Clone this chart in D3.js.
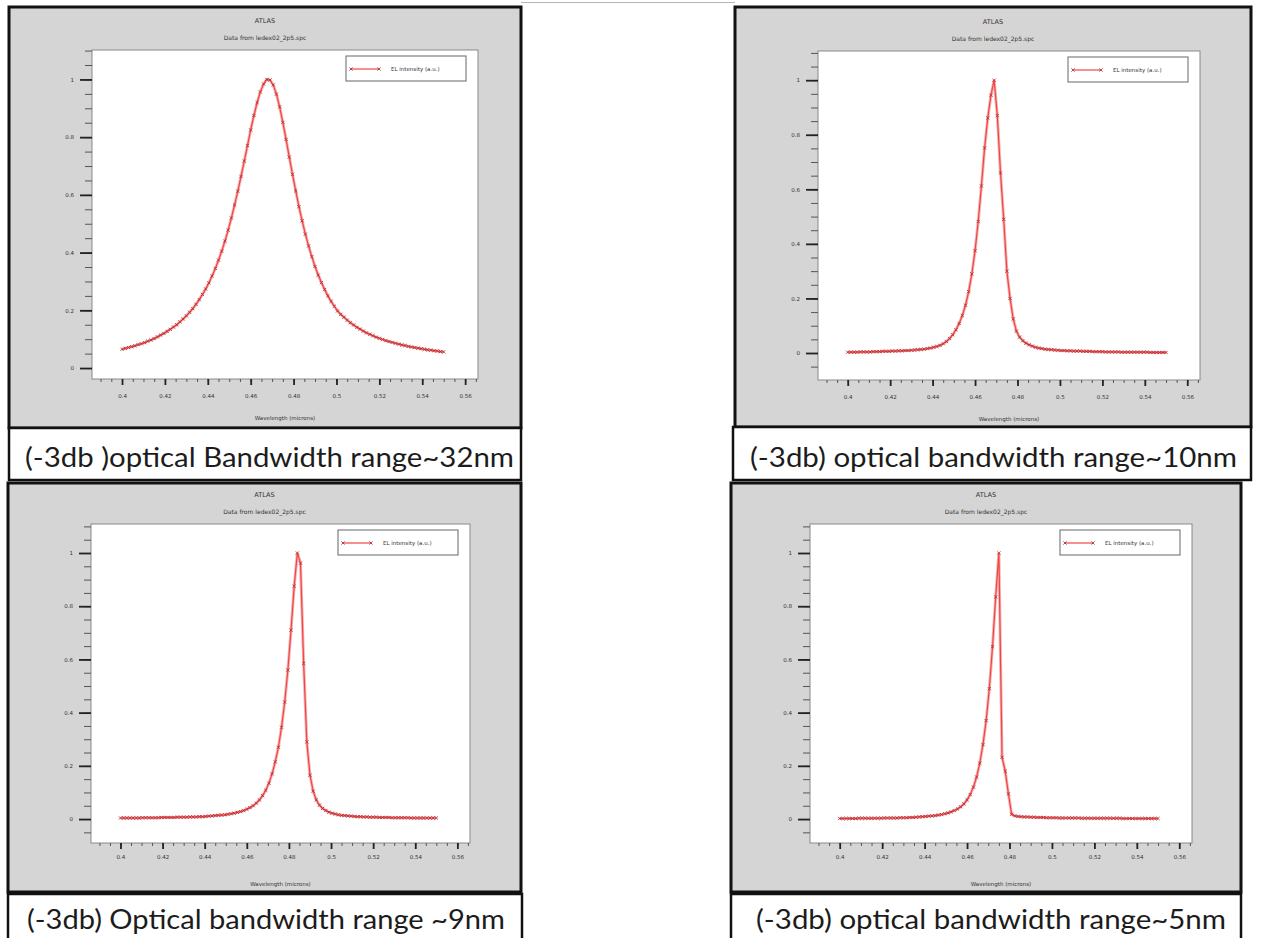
<!DOCTYPE html>
<html lang="en">
<head>
<meta charset="UTF-8">
<title>EL spectra - optical bandwidth</title>
<style>
  body { margin: 0; background: #fff; }
  svg { display: block; }
  .tick text { font-family: "DejaVu Sans", sans-serif; font-size: 5.5px; fill: #333; }
  .small { font-family: "DejaVu Sans", sans-serif; fill: #333; }
  .caption { font-family: "Lato", "Open Sans", sans-serif; fill: #1c1c1c; }
</style>
</head>
<body>
<svg id="CHART"></svg>

<script src="https://cdnjs.cloudflare.com/ajax/libs/d3/7.8.5/d3.min.js"></script>
<script>
// ==================================================================
// Data (wavelength in microns)

const wavelength = [
  0.4000, 0.4015, 0.4030, 0.4045, 0.4060, 0.4075, 0.4090, 0.4105, 0.4120, 0.4135,
  0.4150, 0.4165, 0.4180, 0.4195, 0.4210, 0.4225, 0.4240, 0.4255, 0.4270, 0.4285,
  0.4300, 0.4315, 0.4330, 0.4345, 0.4360, 0.4375, 0.4390, 0.4405, 0.4420, 0.4435,
  0.4450, 0.4465, 0.4480, 0.4495, 0.4510, 0.4525, 0.4540, 0.4555, 0.4570, 0.4585,
  0.4600, 0.4615, 0.4630, 0.4645, 0.4660, 0.4675, 0.4690, 0.4705, 0.4720, 0.4735,
  0.4750, 0.4765, 0.4780, 0.4795, 0.4810, 0.4825, 0.4840, 0.4855, 0.4870, 0.4885,
  0.4900, 0.4915, 0.4930, 0.4945, 0.4960, 0.4975, 0.4990, 0.5005, 0.5020, 0.5035,
  0.5050, 0.5065, 0.5080, 0.5095, 0.5110, 0.5125, 0.5140, 0.5155, 0.5170, 0.5185,
  0.5200, 0.5215, 0.5230, 0.5245, 0.5260, 0.5275, 0.5290, 0.5305, 0.5320, 0.5335,
  0.5350, 0.5365, 0.5380, 0.5395, 0.5410, 0.5425, 0.5440, 0.5455, 0.5470, 0.5485,
  0.5500
];

// EL intensity (a.u.)
const elBand32 = [
  0.065, 0.068, 0.071, 0.074, 0.077, 0.081, 0.084, 0.088, 0.093, 0.097,
  0.102, 0.108, 0.114, 0.120, 0.127, 0.134, 0.142, 0.150, 0.160, 0.170,
  0.181, 0.193, 0.206, 0.221, 0.237, 0.255, 0.274, 0.295, 0.319, 0.345,
  0.374, 0.405, 0.440, 0.478, 0.520, 0.565, 0.613, 0.664, 0.717, 0.771,
  0.825, 0.875, 0.920, 0.957, 0.984, 1.000, 0.998, 0.981, 0.949, 0.905,
  0.851, 0.792, 0.731, 0.671, 0.614, 0.559, 0.510, 0.464, 0.423, 0.386,
  0.352, 0.322, 0.296, 0.272, 0.250, 0.231, 0.214, 0.198, 0.186, 0.176,
  0.166, 0.157, 0.149, 0.141, 0.135, 0.128, 0.122, 0.117, 0.112, 0.107,
  0.103, 0.099, 0.095, 0.092, 0.089, 0.086, 0.083, 0.080, 0.078, 0.075,
  0.073, 0.071, 0.069, 0.067, 0.065, 0.063, 0.062, 0.060, 0.059, 0.057,
  0.056
];

const elBand10 = [
  0.003, 0.003, 0.003, 0.003, 0.004, 0.004, 0.004, 0.004, 0.005, 0.005,
  0.005, 0.006, 0.006, 0.006, 0.007, 0.007, 0.008, 0.008, 0.009, 0.009,
  0.010, 0.011, 0.012, 0.013, 0.014, 0.016, 0.018, 0.021, 0.024, 0.028,
  0.034, 0.042, 0.053, 0.067, 0.085, 0.108, 0.137, 0.175, 0.225, 0.290,
  0.375, 0.482, 0.612, 0.752, 0.862, 0.945, 1.000, 0.870, 0.660, 0.490,
  0.300, 0.200, 0.125, 0.080, 0.058, 0.045, 0.036, 0.030, 0.025, 0.021,
  0.018, 0.016, 0.014, 0.013, 0.012, 0.011, 0.010, 0.009, 0.009, 0.008,
  0.008, 0.007, 0.007, 0.007, 0.006, 0.006, 0.006, 0.005, 0.005, 0.005,
  0.005, 0.004, 0.004, 0.004, 0.004, 0.004, 0.003, 0.003, 0.003, 0.003,
  0.003, 0.003, 0.003, 0.003, 0.003, 0.002, 0.002, 0.002, 0.002, 0.002,
  0.002
];

const elBand9 = [
  0.004, 0.004, 0.004, 0.004, 0.004, 0.004, 0.004, 0.005, 0.005, 0.005,
  0.005, 0.005, 0.005, 0.006, 0.006, 0.006, 0.006, 0.006, 0.007, 0.007,
  0.007, 0.007, 0.008, 0.008, 0.008, 0.009, 0.009, 0.010, 0.011, 0.012,
  0.013, 0.014, 0.015, 0.016, 0.018, 0.020, 0.022, 0.025, 0.028, 0.032,
  0.037, 0.043, 0.050, 0.060, 0.072, 0.088, 0.108, 0.135, 0.170, 0.215,
  0.270, 0.345, 0.440, 0.560, 0.710, 0.875, 1.000, 0.962, 0.585, 0.290,
  0.165, 0.105, 0.072, 0.052, 0.040, 0.032, 0.026, 0.022, 0.019, 0.016,
  0.014, 0.013, 0.012, 0.011, 0.010, 0.009, 0.009, 0.008, 0.008, 0.007,
  0.007, 0.007, 0.006, 0.006, 0.006, 0.006, 0.005, 0.005, 0.005, 0.005,
  0.005, 0.005, 0.004, 0.004, 0.004, 0.004, 0.004, 0.004, 0.004, 0.004,
  0.004
];

const elBand5 = [
  0.002, 0.002, 0.002, 0.002, 0.002, 0.002, 0.003, 0.003, 0.003, 0.003,
  0.003, 0.003, 0.003, 0.003, 0.004, 0.004, 0.004, 0.004, 0.004, 0.005,
  0.005, 0.005, 0.006, 0.006, 0.007, 0.008, 0.009, 0.010, 0.011, 0.012,
  0.013, 0.015, 0.017, 0.020, 0.023, 0.027, 0.032, 0.038, 0.046, 0.057,
  0.072, 0.092, 0.120, 0.158, 0.210, 0.280, 0.370, 0.490, 0.648, 0.835,
  1.000, 0.232, 0.180, 0.095, 0.018, 0.012, 0.010, 0.009, 0.008, 0.008,
  0.007, 0.007, 0.006, 0.006, 0.006, 0.005, 0.005, 0.005, 0.005, 0.004,
  0.004, 0.004, 0.004, 0.004, 0.004, 0.004, 0.003, 0.003, 0.003, 0.003,
  0.003, 0.003, 0.003, 0.003, 0.003, 0.003, 0.003, 0.003, 0.003, 0.002,
  0.002, 0.002, 0.002, 0.002, 0.002, 0.002, 0.002, 0.002, 0.002, 0.002,
  0.002
];

const captions = [
  "(-3db )optical Bandwidth range~32nm",
  "(-3db) optical bandwidth range~10nm",
  "(-3db) Optical bandwidth range ~9nm",
  "(-3db) optical bandwidth range~5nm"
];

const xTicks = [0.4, 0.42, 0.44, 0.46, 0.48, 0.5, 0.52, 0.54, 0.56];
const yTicks = [0, 0.2, 0.4, 0.6, 0.8, 1];

const plotTitle = "ATLAS";
const plotSubtitle = "Data from ledex02_2p5.spc";
const xLabel = "Wavelength (microns)";
const legendLabel = "EL intensity (a.u.)";

// ==================================================================
// Layout: window frame, plot area, caption box for each screenshot

const xDomain = [0.386, 0.566];

const panels = [
  { values: elBand32, caption: captions[0],
    frame: { x: 9, y: 7, w: 512, h: 421 },
    plot: { x0: 92, y0: 50, x1: 478, y1: 379 }, yDomain: [-0.038, 1.102],
    pad: 9, titleDy: 41,
    cap: { x: 9, y: 428, w: 512, h: 52 }, text: { x: 25, w: 489, y: 467 } },
  { values: elBand10, caption: captions[1],
    frame: { x: 735, y: 7, w: 516, h: 420 },
    plot: { x0: 818, y0: 51, x1: 1200, y1: 380 }, yDomain: [-0.099, 1.107],
    pad: 9, titleDy: 41,
    cap: { x: 733, y: 427, w: 518, h: 53 }, text: { x: 750, w: 487, y: 467 } },
  { values: elBand9, caption: captions[2],
    frame: { x: 8, y: 483, w: 513, h: 409 },
    plot: { x0: 91, y0: 524, x1: 470, y1: 843 }, yDomain: [-0.09, 1.109],
    pad: 6, titleDy: 43,
    cap: { x: 8, y: 894, w: 514, h: 48 }, text: { x: 27, w: 478, y: 929 } },
  { values: elBand5, caption: captions[3],
    frame: { x: 731, y: 483, w: 510, h: 409 },
    plot: { x0: 810, y0: 524, x1: 1192, y1: 843 }, yDomain: [-0.09, 1.109],
    pad: 6, titleDy: 43,
    cap: { x: 731, y: 894, w: 510, h: 48 }, text: { x: 756, w: 470, y: 929 } }
];

const width = 1261;
const height = 938;

const svg = d3.select("#CHART")
    .attr("width", width)
    .attr("height", height);

svg.append("rect")
    .attr("width", width)
    .attr("height", height)
    .attr("fill", "#fff");

// thin slide edge between the two top screenshots
svg.append("line")
    .attr("x1", 521).attr("x2", 735)
    .attr("y1", 2.5).attr("y2", 2.5)
    .attr("stroke", "#b5b5b5")
    .attr("stroke-width", 1);

const fmt = d3.format("~g");
const cross = "M-1.6,-1.6L1.6,1.6M-1.6,1.6L1.6,-1.6";

panels.forEach(drawPanel);

function drawPanel(p) {
    const g = svg.append("g");
    const f = p.frame;

    // grey ATLAS window
    g.append("rect")
        .attr("x", f.x).attr("y", f.y)
        .attr("width", f.w).attr("height", f.h)
        .attr("fill", "#d5d5d5")
        .attr("stroke", "#111")
        .attr("stroke-width", 3);

    const x = d3.scaleLinear().domain(xDomain).range([p.plot.x0, p.plot.x1]);
    const y = d3.scaleLinear().domain(p.yDomain).range([p.plot.y1, p.plot.y0]);

    g.append("rect")
        .attr("x", p.plot.x0).attr("y", p.plot.y0)
        .attr("width", p.plot.x1 - p.plot.x0)
        .attr("height", p.plot.y1 - p.plot.y0)
        .attr("fill", "#fff")
        .attr("stroke", "#8a8a8a")
        .attr("stroke-width", 1);

    const cx = f.x + f.w / 2;
    g.append("text").attr("class", "small")
        .attr("x", cx).attr("y", p.plot.y0 - 27)
        .attr("text-anchor", "middle")
        .attr("font-size", 6.5)
        .text(plotTitle);
    g.append("text").attr("class", "small")
        .attr("x", cx).attr("y", p.plot.y0 - 10)
        .attr("text-anchor", "middle")
        .attr("font-size", 6)
        .text(plotSubtitle);

    // minor ticks
    const yMinor = d3.range(Math.ceil(p.yDomain[0] / 0.05), Math.floor(p.yDomain[1] / 0.05) + 1).map(k => k * 0.05);
    const xMinor = d3.range(Math.ceil(xDomain[0] / 0.005), Math.floor(xDomain[1] / 0.005) + 1).map(k => k * 0.005);

    const yMinorAxis = g.append("g")
        .attr("transform", `translate(${p.plot.x0},0)`)
        .call(d3.axisLeft(y).tickValues(yMinor).tickSize(7).tickFormat(""));
    const yAxis = g.append("g")
        .attr("transform", `translate(${p.plot.x0},0)`)
        .call(d3.axisLeft(y).tickValues(yTicks).tickSize(12).tickPadding(6).tickFormat(fmt));
    const xMinorAxis = g.append("g")
        .attr("transform", `translate(0,${p.plot.y1})`)
        .call(d3.axisBottom(x).tickValues(xMinor).tickSize(3).tickFormat(""));
    const xAxis = g.append("g")
        .attr("transform", `translate(0,${p.plot.y1})`)
        .call(d3.axisBottom(x).tickValues(xTicks).tickSize(6).tickPadding(p.pad).tickFormat(fmt));

    [yMinorAxis, yAxis, xMinorAxis, xAxis].forEach(a => a.select(".domain").remove());
    [yMinorAxis, xMinorAxis].forEach(a => a.selectAll(".tick line").attr("stroke", "#555").attr("stroke-width", 1));
    [yAxis, xAxis].forEach(a => a.selectAll(".tick line").attr("stroke", "#222").attr("stroke-width", 1.8));

    g.append("text").attr("class", "small")
        .attr("x", (p.plot.x0 + p.plot.x1) / 2)
        .attr("y", p.plot.y1 + p.titleDy)
        .attr("text-anchor", "middle")
        .attr("font-size", 5.5)
        .text(xLabel);

    // spectrum
    const pts = wavelength.map((w, i) => [w, p.values[i]]);
    const line = d3.line().x(d => x(d[0])).y(d => y(d[1]));

    g.append("path")
        .datum(pts)
        .attr("d", line)
        .attr("fill", "none")
        .attr("stroke", "#f7b3b3")
        .attr("stroke-width", 3);
    g.append("path")
        .datum(pts)
        .attr("d", line)
        .attr("fill", "none")
        .attr("stroke", "#ef4545")
        .attr("stroke-width", 1.2);
    g.selectAll("path.mark")
        .data(pts)
        .join("path")
        .attr("class", "mark")
        .attr("transform", d => `translate(${x(d[0])},${y(d[1])})`)
        .attr("d", cross)
        .attr("stroke", "#b8333a")
        .attr("stroke-width", 0.9);

    // legend
    const lx = p.plot.x1 - 132;
    const ly = p.plot.y0 + 6;
    g.append("rect")
        .attr("x", lx).attr("y", ly)
        .attr("width", 120).attr("height", 25)
        .attr("fill", "#fff")
        .attr("stroke", "#666")
        .attr("stroke-width", 1);
    g.append("line")
        .attr("x1", lx + 5).attr("x2", lx + 33)
        .attr("y1", ly + 13).attr("y2", ly + 13)
        .attr("stroke", "#ef4545").attr("stroke-width", 1.2);
    g.selectAll("path.lmark")
        .data([lx + 5, lx + 33])
        .join("path")
        .attr("class", "lmark")
        .attr("transform", d => `translate(${d},${ly + 13})`)
        .attr("d", cross)
        .attr("stroke", "#b8333a")
        .attr("stroke-width", 0.9);
    g.append("text").attr("class", "small")
        .attr("x", lx + 45).attr("y", ly + 15)
        .attr("font-size", 5.5)
        .text(legendLabel);

    // caption box under the screenshot
    g.append("rect")
        .attr("x", p.cap.x).attr("y", p.cap.y)
        .attr("width", p.cap.w).attr("height", p.cap.h)
        .attr("fill", "#fff")
        .attr("stroke", "#111")
        .attr("stroke-width", 2.5);
    g.append("text").attr("class", "caption")
        .attr("x", p.text.x).attr("y", p.text.y)
        .attr("font-size", 27)
        .attr("textLength", p.text.w)
        .attr("lengthAdjust", "spacingAndGlyphs")
        .text(p.caption);
}
</script>
</body>
</html>
